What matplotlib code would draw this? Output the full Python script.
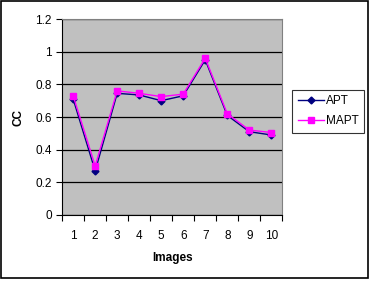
import matplotlib
matplotlib.use("Agg")
from matplotlib import pyplot as plt
import numpy as np

# data
images = [1, 2, 3, 4, 5, 6, 7, 8, 9, 10]
apt = [0.71, 0.27, 0.745, 0.735, 0.70, 0.73, 0.95, 0.61, 0.51, 0.49]
mapt = [0.73, 0.30, 0.76, 0.745, 0.725, 0.74, 0.96, 0.62, 0.52, 0.505]
yticks = [0, 0.2, 0.4, 0.6, 0.8, 1, 1.2]

plt.rcParams['font.family'] = ['Liberation Sans', 'DejaVu Sans']

fig = plt.figure(figsize=(3.7, 2.84), dpi=100)
# outer frame
fig.patches.append(plt.Rectangle((0.004, 0.02), 0.99, 0.975, transform=fig.transFigure,
                                 fill=False, edgecolor='black', linewidth=1.2))

ax = fig.add_axes([0.168, 0.243, 0.595, 0.690])
ax.set_facecolor('#C0C0C0')
ax.plot(images, apt, color='#000080', marker='D', markersize=3.5, linewidth=1, label='APT')
ax.plot(images, mapt, color='#FF00FF', marker='s', markersize=4.5, linewidth=1, label='MAPT')

ax.set_xlim(0.5, 10.5)
ax.set_ylim(0, 1.2)
ax.set_yticks(yticks)
ax.set_yticklabels(['0', '0.2', '0.4', '0.6', '0.8', '1', '1.2'])
ax.set_xticks(images)
ax.set_xticks(np.arange(0.5, 11, 1), minor=True)
ax.tick_params(axis='x', which='major', length=0, pad=11, labelsize=8.5)
ax.tick_params(axis='x', which='minor', length=4, direction='out', width=0.8)
ax.tick_params(axis='y', length=4, direction='out', width=0.8, labelsize=8.5)
ax.yaxis.grid(True, color='black', linewidth=0.9)
ax.set_axisbelow(True)
for s in ['top', 'right']:
    ax.spines[s].set_color('#808080')
    ax.spines[s].set_linewidth(0.8)
for s in ['left', 'bottom']:
    ax.spines[s].set_color('black')
    ax.spines[s].set_linewidth(0.8)

ax.set_xlabel('Images', fontsize=8.5, fontweight='bold', labelpad=7)
ax.set_ylabel('CC', fontsize=8.5, fontweight='bold', labelpad=8)

leg = ax.legend(loc='center left', bbox_to_anchor=(1.045, 0.53), fontsize=8.5,
                frameon=True, fancybox=False, edgecolor='black', handlelength=2.2,
                borderpad=0.45, labelspacing=0.7, handletextpad=0.2, borderaxespad=0)
leg.get_frame().set_linewidth(0.8)

fig.savefig('out.png', dpi=100)
